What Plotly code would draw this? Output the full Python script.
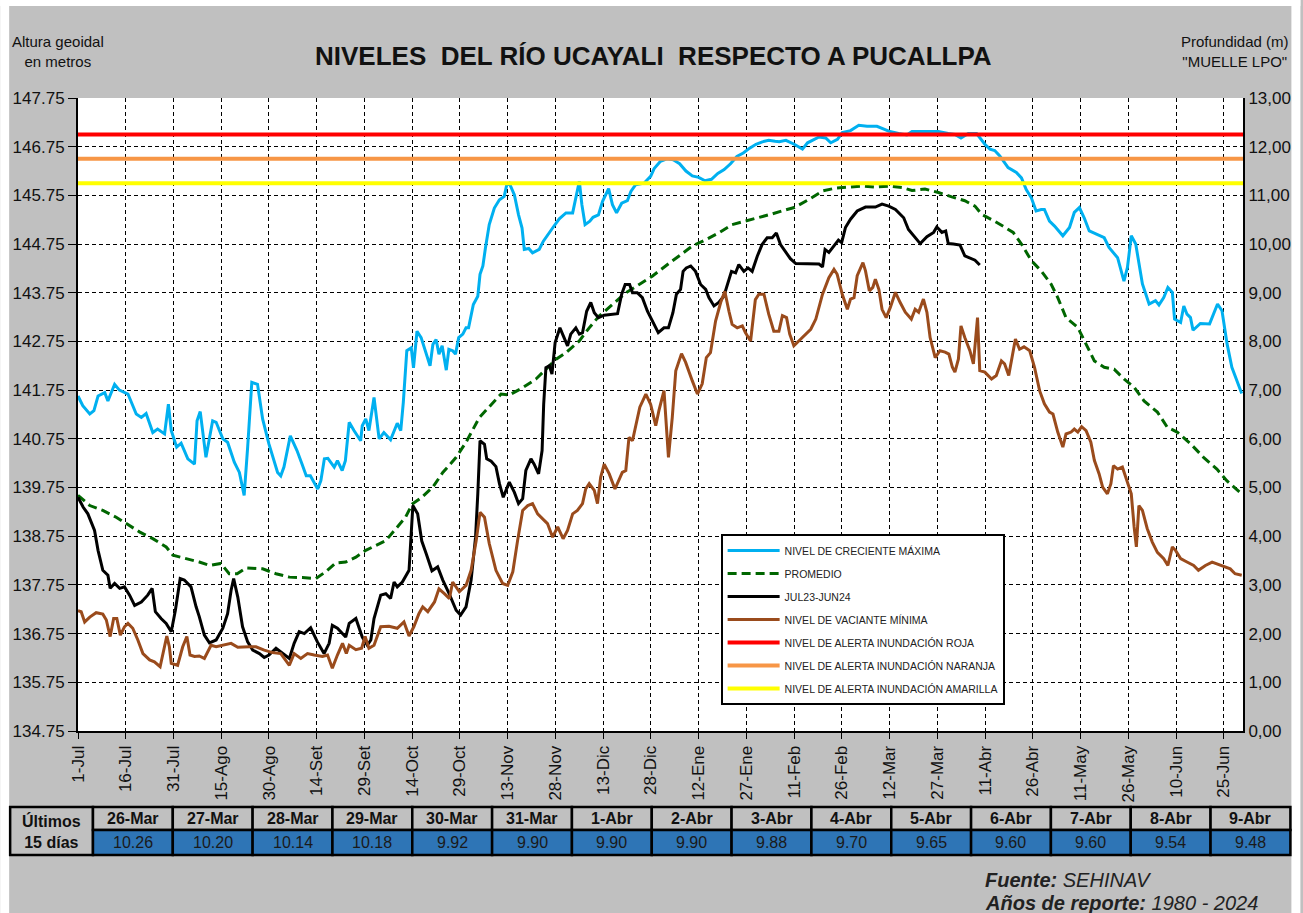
import plotly.graph_objects as go

# ---------------- DATA (day offset from 1-Jul, altitude m) ----------------
TICK_LABELS = ["1-Jul", "16-Jul", "31-Jul", "15-Ago", "30-Ago", "14-Set", "29-Set", "14-Oct",
               "29-Oct", "13-Nov", "28-Nov", "13-Dic", "28-Dic", "12-Ene", "27-Ene", "11-Feb",
               "26-Feb", "12-Mar", "27-Mar", "11-Abr", "26-Abr", "11-May", "26-May", "10-Jun", "25-Jun"]

MAXIMA = [(0,141.63),(1.5,141.43),(3.7,141.26),(5,141.33),(6.3,141.63),(8.4,141.70),(9.4,141.53),(11.5,141.87),
 (13,141.75),(15.7,141.67),(18.3,141.26),(19.9,141.19),(21.4,141.27),(23.5,140.88),(25,140.95),(27.2,140.85),
 (28.4,141.46),(29.3,140.92),(31,140.58),(32.4,140.66),(34.5,140.34),(36.6,140.23),(37.4,141.12),(38.4,141.31),
 (40.2,140.37),(42.3,141.12),(43.4,141.09),(45.5,140.75),(47,140.68),(49.1,140.27),(50.7,140.06),(52.2,139.59),
 (53.3,140.58),(54.6,141.91),(56.4,141.87),(58,141.16),(60,140.64),(62.7,140.06),(63.7,139.99),(64.7,140.17),
 (66.7,140.81),(68.8,140.51),(70.4,140.23),(71.7,139.99),(73,139.99),(75.3,139.72),(76.3,139.89),(77.4,140.34),
 (78.5,140.35),(80.5,140.17),(81.5,140.30),(83,140.10),(84,140.30),(85.2,141.09),(86.7,140.92),(88.8,140.71),
 (89.3,141.02),(90.4,141.16),(91.4,140.92),(93,141.60),(94.6,140.75),(96.1,140.88),(98.2,140.73),(100.3,141.07),
 (101.4,140.92),(102.2,141.50),(103.3,142.56),(104.7,142.62),(105.4,142.21),(106.5,142.96),(107.8,142.83),
 (109.2,142.56),(110.6,142.25),(111.5,142.69),(112.5,142.79),(113.4,142.49),(114.4,142.66),(115.7,142.16),
 (116.5,142.59),(117.7,142.56),(118.6,142.49),(119.6,142.83),(120.9,142.90),(121.9,143.03),(122.7,143.03),
 (124.2,143.51),(125.6,143.68),(126.3,144.13),(127.2,144.30),(128,144.67),(129.2,145.15),(130.8,145.49),
 (132.4,145.66),(133.9,145.73),(134.7,145.97),(135.5,146.00),(137.1,145.76),(138.4,145.35),(139.5,145.08),
 (140.2,144.64),(141.6,144.66),(142.8,144.57),(144.9,144.64),(146.2,144.81),(147.5,144.94),(149.1,145.08),
 (151.2,145.27),(153.3,145.39),(155.4,145.39),(155.9,145.56),(157.5,146.04),(158.3,145.56),(159.3,145.15),
 (160.8,145.22),(161.8,145.30),(163.5,145.35),(164.8,145.63),(166.7,145.89),(167.9,145.56),(169.2,145.39),
 (170.8,145.59),(172.6,145.64),(173.7,145.83),(175.2,145.97),(177.8,146.00),(179.9,146.14),(181,146.30),
 (183,146.45),(185,146.50),(187,146.48),(189,146.40),(191,146.25),(193,146.15),(195,146.12),(197,146.05),
 (199,146.08),(201,146.20),(203,146.28),(205,146.40),(207,146.55),(209,146.62),(211,146.72),(213,146.80),
 (215,146.85),(217,146.88),(219,146.86),(220.3,146.85),(222.4,146.88),(225,146.80),(227.6,146.70),(229.2,146.83),
 (232.8,146.95),(234.9,146.93),(236.5,146.83),(238.6,146.90),(240.1,147.04),(242.7,147.08),(245.3,147.19),
 (247.9,147.17),(251,147.17),(252.6,147.13),(254.7,147.07),(257.8,147.02),(260.4,146.99),(262,147.06),
 (266.1,147.06),(270.3,147.06),(273.4,147.02),(275.5,147.00),(277.4,146.93),(279.7,147.02),(282.3,147.02),
 (283.3,146.93),(284.9,146.80),(286.5,146.70),(288,146.67),(289.6,146.56),(292.2,146.32),(294.8,146.22),
 (296.4,146.11),(297.9,145.87),(299.5,145.70),(301,145.43),(302.6,145.46),(303.6,145.46),(305.2,145.22),
 (306.8,145.12),(309.4,144.92),(311.5,145.09),(313,145.40),(314.6,145.50),(316.1,145.29),(317.7,145.02),
 (320.3,144.95),(322.4,144.88),(323.9,144.68),(326.6,144.47),(328.6,143.99),(329.7,144.27),(330.9,144.92),
 (332.3,144.75),(334.4,143.93),(336.5,143.52),(338.5,143.59),(339.6,143.50),(341.1,143.65),(342.4,143.86),
 (343.8,143.76),(344.5,143.21),(346.4,143.14),(347.4,143.48),(348.4,143.31),(349.5,143.24),(350.3,142.98),
 (352.6,143.12),(355.5,143.11),(356.8,143.31),(358,143.52),(359.4,143.38),(361,142.70),(362.5,142.22),
 (364.1,141.94),(365.6,141.68)]

PROMEDIO = [(0,139.59),(3.7,139.38),(7.8,139.28),(12,139.14),(15.2,139.01),(19.3,138.84),(23.5,138.70),
 (27.7,138.53),(29.8,138.36),(34,138.29),(38.1,138.22),(41.3,138.15),(44.9,138.19),(47.5,137.98),(50,137.98),
 (52.8,138.10),(58,138.08),(62.2,137.98),(66.4,137.91),(70.5,137.90),(74.7,137.88),(77.8,138.02),(81,138.20),
 (84.1,138.22),(87.3,138.32),(90.4,138.46),(93.5,138.56),(96.7,138.66),(99.8,138.90),(102.9,139.14),(105,139.41),
 (108,139.55),(111.5,139.76),(114.6,140.06),(118.8,140.37),(121.9,140.68),(126.1,141.19),(129.2,141.40),
 (132.9,141.67),(135.5,141.65),(139.7,141.80),(143.9,141.98),(147.5,142.21),(150.1,142.38),(153.3,142.52),
 (157.5,142.76),(160.6,143.03),(163.7,143.27),(167.9,143.51),(172.1,143.75),(176.3,143.92),(180.4,144.09),
 (184.6,144.30),(188.8,144.50),(193,144.71),(197.2,144.84),(201.3,144.98),(205.5,145.15),(209.7,145.22),
 (213.9,145.29),(218.1,145.37),(222.2,145.45),(225,145.50),(229.7,145.67),(233.9,145.84),(238,145.90),
 (242.2,145.92),(246.4,145.94),(250.5,145.92),(254.7,145.94),(258.9,145.91),(262,145.85),(266.1,145.88),
 (270.3,145.81),(274.5,145.72),(278.6,145.64),(281.8,145.53),(283.9,145.36),(288,145.22),(291.1,145.09),
 (293.8,144.99),(296.4,144.75),(299.5,144.41),(302.6,144.20),(305.7,143.93),(307.8,143.65),(310.4,143.24),
 (314.1,143.04),(316.7,142.70),(319.3,142.35),(322.4,142.22),(325.5,142.18),(328.6,141.98),(331.8,141.81),
 (334.9,141.53),(339.1,141.30),(342.2,140.99),(345.3,140.89),(349.5,140.65),(353.6,140.37),(357.8,140.13),
 (360.9,139.89),(365.6,139.62)]

ACTUAL = [(0,139.55),(1.6,139.35),(3.1,139.21),(5.2,138.87),(6.3,138.46),(7.8,138.05),(9.4,137.95),(10.1,137.68),
 (11.5,137.78),(13.1,137.68),(14.6,137.71),(16.2,137.54),(17.8,137.33),(19.9,137.40),(21.9,137.54),(23.3,137.68),
 (24.3,137.20),(26.1,137.06),(27.7,136.96),(29.3,136.79),(30.6,137.23),(32.1,137.88),(33.4,137.85),(35.5,137.71),
 (37.1,137.30),(38.1,137.10),(39.7,136.72),(41.3,136.56),(43.4,136.62),(45.5,136.86),(47,137.16),(48.1,137.64),
 (48.9,137.88),(50.2,137.50),(51.7,136.89),(53.3,136.58),(54.9,136.41),(57,136.34),(58.5,136.26),(60,136.31),
 (62.2,136.45),(64.3,136.34),(66.4,136.24),(67.9,136.55),(69.5,136.79),(71.1,136.75),(73.1,136.87),(75.2,136.58),
 (77.3,136.34),(78.9,136.55),(79.9,136.92),(81.5,136.86),(84.1,136.68),(85.2,136.96),(87.3,137.06),(89.3,136.68),
 (90.9,136.51),(92,136.62),(93,137.06),(95.1,137.54),(96.7,137.57),(98.2,137.47),(99.3,137.81),(100.3,137.71),
 (101.9,137.81),(104,138.05),(105.2,139.38),(106.7,139.21),(108,138.65),(109.4,138.39),(111.2,138.04),(113,138.12),
 (114.6,137.85),(116.6,137.57),(118.8,137.23),(120.2,137.13),(121.9,137.30),(123.5,137.85),(124.9,138.73),
 (125.6,139.62),(126.3,140.71),(127.7,140.64),(128.4,140.34),(129.8,140.29),(131.3,140.18),(132.4,139.83),
 (133.6,139.55),(135.5,139.86),(137.1,139.65),(138.4,139.42),(139.7,139.52),(140.7,140.10),(142.3,140.34),
 (143.3,140.23),(144.7,140.03),(145.8,140.51),(146.3,141.46),(147,142.21),(148.1,142.25),(148.9,142.08),
 (149.9,142.73),(151.4,143.03),(152.8,142.83),(153.8,142.66),(154.8,142.90),(156.4,143.03),(157.5,142.90),
 (158.5,142.93),(159.8,143.37),(161.1,143.55),(162.2,143.34),(163.5,143.24),(165.3,143.29),(167.4,143.31),
 (169.5,143.32),(170.8,143.72),(171.9,143.92),(173.3,143.92),(174.2,143.75),(175.7,143.75),(177.3,143.65),
 (178.9,143.37),(180.4,143.17),(182.3,142.93),(184.1,143.03),(185.5,143.03),(186.9,143.34),(188,143.72),
 (189.3,143.82),(190.1,144.19),(191.1,144.26),(192.5,144.30),(194,144.19),(195.6,143.92),(197.2,143.82),
 (198.2,143.65),(199.8,143.48),(201.3,143.55),(202.9,143.68),(204,143.92),(205.3,144.19),(206.6,144.16),
 (207.6,144.33),(209.2,144.19),(210.5,144.26),(211.8,144.19),(213.4,144.50),(214.9,144.74),(216.5,144.88),
 (218.1,144.88),(219.4,144.98),(220.7,144.74),(222.2,144.60),(223.8,144.45),(225.5,144.35),(229.7,144.34),
 (232.8,144.34),(233.9,144.28),(234.7,144.64),(235.9,144.58),(237.5,144.71),(238.9,144.83),(239.9,144.78),
 (241.1,145.09),(242.7,145.26),(244.8,145.43),(247.4,145.51),(250.5,145.51),(252.6,145.57),(254.7,145.53),
 (256.8,145.46),(259.4,145.29),(260.9,145.05),(262.5,144.92),(264.6,144.76),(266.7,144.90),(268.8,144.99),
 (269.8,145.10),(271.4,144.99),(272.6,145.02),(273.4,144.76),(275,144.75),(277.1,144.73),(278.6,144.51),
 (280.2,144.47),(281.8,144.42),(283.3,144.32)]

MINIMA = [(0,137.22),(1,137.20),(2.1,136.99),(3.7,137.09),(5.7,137.18),(7.8,137.15),(8.9,137.03),(10.1,136.69),
 (11.2,137.06),(12.2,137.06),(13.3,136.72),(14.6,136.89),(15.7,136.96),(17.2,136.86),(18.8,136.62),(20.4,136.34),
 (22.5,136.21),(24,136.17),(25.8,136.07),(26.9,136.41),(27.9,136.70),(28.7,136.48),(29.3,136.14),(31.3,136.10),
 (32.9,136.48),(34.2,136.69),(35.2,136.31),(36.6,136.28),(38.1,136.29),(39.7,136.24),(41.8,136.51),(43.4,136.48),
 (45.5,136.51),(48.1,136.55),(50.2,136.47),(52.2,136.48),(53.8,136.48),(55.9,136.48),(58.5,136.41),(61.1,136.36),
 (63.7,136.34),(66.4,136.10),(67.9,136.34),(70,136.24),(72.1,136.34),(74.2,136.31),(76.8,136.28),(78.4,136.31),
 (79.9,136.04),(81.5,136.31),(83.1,136.55),(84.3,136.34),(85.2,136.51),(87.3,136.42),(89.1,136.45),(90.2,136.69),
 (91.4,136.45),(93,136.51),(95.1,136.89),(97.7,136.90),(100.3,136.86),(102.4,136.99),(104,136.70),(105.5,136.89),
 (107.1,137.16),(108.3,137.30),(109.9,137.20),(112,137.40),(113.4,137.67),(115.1,137.57),(116.7,137.47),
 (117.7,137.81),(119.8,137.61),(121.9,137.74),(123.5,138.05),(125.1,138.66),(126.3,139.24),(127.7,139.14),
 (129.2,138.60),(131.3,138.05),(133.4,137.78),(135,137.74),(136.6,138.02),(138.1,138.66),(139.7,139.28),
 (141.3,139.38),(142.8,139.42),(144.4,139.21),(146,139.11),(147.5,139.01),(149.1,138.73),(150.7,138.94),
 (152.4,138.70),(153.8,138.87),(155.4,139.21),(156.9,139.28),(158.5,139.42),(159.5,139.72),(160.6,139.83),
 (162.2,139.69),(163.2,139.42),(164.2,139.96),(165.3,140.23),(166.9,140.03),(168.7,139.72),(170,139.93),
 (171,140.06),(172.1,140.10),(173.1,140.78),(174.2,140.71),(175.2,140.99),(176.5,141.40),(178.4,141.67),
 (179.9,141.46),(181.5,141.02),(182.5,141.33),(184.1,141.74),(185.5,140.37),(186.7,141.19),(187.8,142.15),
 (189.6,142.50),(190.9,142.32),(193,141.94),(194.6,141.67),(196.1,141.88),(197.4,142.42),(198.7,142.52),
 (200.3,143.17),(201.9,143.55),(203.2,143.78),(204.5,143.37),(205.5,143.10),(207.1,143.03),(208.7,143.07),
 (209.7,142.93),(211.3,142.76),(212.8,143.61),(213.9,143.72),(215.5,143.72),(217,143.31),(218.6,142.96),
 (220.2,142.96),(221.3,143.28),(222.6,143.24),(223.6,142.90),(224.9,142.66),(226.6,142.77),(228.1,142.87),
 (230.2,143.00),(231.8,143.21),(233.9,143.72),(235.9,144.06),(237.5,144.23),(238.5,144.13),(240.1,143.72),
 (241.7,143.41),(242.7,143.62),(243.8,143.65),(244.8,144.10),(246.6,144.37),(247.4,144.20),(248.6,143.79),
 (249.7,143.86),(250.5,144.03),(251.6,143.82),(252.6,143.41),(253.9,143.24),(255.2,143.45),(256.8,143.76),
 (258.3,143.55),(259.9,143.35),(261.8,143.21),(263,143.41),(264.1,143.35),(265.6,143.62),(266.7,143.35),
 (267.7,142.83),(269.3,142.42),(270.8,142.56),(272.4,142.53),(273.6,142.49),(274.7,142.22),(275.5,142.12),
 (276.6,142.39),(277.4,143.07),(278.6,142.83),(280.2,142.56),(281.3,142.29),(282.6,143.24),(283.3,142.15),
 (284.9,142.12),(287,141.98),(288.5,142.05),(290.1,142.35),(291.1,142.29),(292.4,142.05),(293.2,142.35),
 (294.5,142.80),(295.8,142.59),(297.2,142.64),(299,142.56),(300.5,142.22),(302.1,141.74),(303.6,141.47),
 (305.2,141.30),(306.3,141.26),(307.8,140.89),(309.4,140.58),(310.4,140.85),(312,140.89),(313,140.95),
 (314.1,140.89),(315.3,141.00),(316.7,140.92),(318.2,140.68),(319.3,140.31),(320.8,140.03),(321.9,139.76),
 (323.4,139.62),(324.5,139.83),(325.3,140.20),(326.6,140.13),(328.1,140.17),(329.7,139.86),(330.9,139.62),
 (331.8,138.94),(332.5,138.53),(333.3,139.38),(334.4,139.28),(335.9,138.91),(337.5,138.63),(339.1,138.42),
 (341.1,138.29),(342.4,138.15),(343.8,138.53),(344.8,138.46),(346.4,138.29),(348.4,138.22),(350.5,138.15),
 (352,138.05),(354.2,138.15),(356.3,138.22),(358.9,138.15),(362,138.08),(363.5,137.98),(365.6,137.95)]

ALERT_NAMES = ["NIVEL DE ALERTA INUNDACIÓN ROJA", "NIVEL DE ALERTA INUNDACIÓN NARANJA",
               "NIVEL DE ALERTA INUNDACIÓN AMARILLA"]
ALERT_LEVELS = [147.00, 146.50, 146.00]

TABLE_DATES = ["26-Mar", "27-Mar", "28-Mar", "29-Mar", "30-Mar", "31-Mar", "1-Abr", "2-Abr",
               "3-Abr", "4-Abr", "5-Abr", "6-Abr", "7-Abr", "8-Abr", "9-Abr"]
TABLE_VALUES = [10.26, 10.20, 10.14, 10.18, 9.92, 9.90, 9.90, 9.90, 9.88, 9.70, 9.65, 9.60, 9.60, 9.54, 9.48]

Y_MIN, Y_MAX = 134.75, 147.75
X_MAX = 366

# ---------------- LAYOUT HELPERS ----------------
W, H = 1303, 913
PL, PR, PT, PB = 78, 1245.5, 98, 731
FONT = "Arial, 'Liberation Sans', sans-serif"
GRAY = "#C0C0C0"
NB = "\u00a0"


def px(X):
    return (X - PL) / (PR - PL)


def py(Y):
    return (PB - Y) / (PB - PT)


fig = go.Figure()

SERIES = [
    ("NIVEL DE CRECIENTE MÁXIMA", MAXIMA, "#00B0F0", "solid"),
    ("PROMEDIO", PROMEDIO, "#006600", "9px,5px"),
    ("JUL23-JUN24", ACTUAL, "#000000", "solid"),
    ("NIVEL DE VACIANTE MÍNIMA", MINIMA, "#9A4B1C", "solid"),
]
for i, (name, data, color, dash) in enumerate(SERIES):
    fig.add_trace(go.Scatter(
        x=[d for d, _ in data], y=[v for _, v in data], mode="lines", name=name,
        line=dict(color=color, width=3, dash=dash), legendgroup=f"g{i}",
        hoverinfo="skip"))

ALERT_COLORS = ["#FF0000", "#F79646", "#FFFF00"]
for j, (name, lvl, color) in enumerate(zip(ALERT_NAMES, ALERT_LEVELS, ALERT_COLORS)):
    fig.add_trace(go.Scatter(
        x=[0, X_MAX], y=[lvl, lvl], mode="lines", name=name,
        line=dict(color=color, width=4), legendgroup=f"a{j}", hoverinfo="skip"))

# invisible trace to activate the right (depth) axis
fig.add_trace(go.Scatter(x=[None], y=[None], yaxis="y2", showlegend=False, hoverinfo="skip"))

grid = dict(showgrid=True, gridcolor="black", gridwidth=1, griddash="4px,3px")

fig.update_layout(
    width=W, height=H,
    margin=dict(l=PL, r=W - PR, t=PT, b=H - PB, pad=0),
    paper_bgcolor=GRAY, plot_bgcolor="white",
    font=dict(family=FONT, color="black"),
    xaxis=dict(range=[0, X_MAX], tickmode="array",
               tickvals=[15 * k for k in range(len(TICK_LABELS))], ticktext=TICK_LABELS,
               tickangle=-90, ticks="outside", ticklen=6, tickcolor="black",
               showline=True, linecolor="black", linewidth=2, zeroline=False,
               tickfont=dict(size=17, color="#111"), **grid),
    yaxis=dict(range=[Y_MIN, Y_MAX], tickmode="array",
               tickvals=[Y_MIN + k for k in range(14)], tickformat=".2f",
               ticks="outside", ticklen=8, tickcolor="black",
               showline=True, linecolor="black", linewidth=2, zeroline=False,
               tickfont=dict(size=17, color="#111"), **grid),
    yaxis2=dict(range=[0, 13], overlaying="y", side="right", tickmode="array",
                tickvals=list(range(14)), ticktext=[f"{k},00" for k in range(14)],
                showgrid=False, zeroline=False, showline=True, linecolor="black", linewidth=2,
                ticks="", tickfont=dict(size=17, color="#111")),
    legend=dict(x=px(722), y=py(534), xanchor="left", yanchor="top", bgcolor="white",
                bordercolor="black", borderwidth=2, tracegroupgap=4, itemwidth=52,
                entrywidth=240, entrywidthmode="pixels",
                font=dict(size=10.5, color="#222", family=FONT)),
    showlegend=True,
)

title_text = f"NIVELES {NB}DEL RÍO UCAYALI {NB}RESPECTO A PUCALLPA"
annotations = [
    dict(text=f"<b>{title_text}</b>", x=px(655), y=py(56), font=dict(size=26, color="#111")),
    dict(text="Altura geoidal<br>en metros", x=px(58), y=py(52), font=dict(size=15, color="#111")),
    dict(text="Profundidad (m)<br>\"MUELLE LPO\"", x=px(1237), y=py(52), font=dict(size=15, color="#111")),
    dict(text="<b><i>Fuente:</i></b><i> SEHINAV</i>", x=px(985), y=py(880), xanchor="left",
         font=dict(size=20, color="#222")),
    dict(text="<b><i>Años de reporte:</i></b><i> 1980 - 2024</i>", x=px(985), y=py(903), xanchor="left",
         font=dict(size=20, color="#222")),
]

shapes = []
# white page border strips
for (x0, y0, x1, y1) in [(0, 0, 9, H), (0, 0, W, 6), (1294, 0, W, H)]:
    shapes.append(dict(type="rect", xref="paper", yref="paper", x0=px(x0), x1=px(x1),
                       y0=py(y0), y1=py(y1), fillcolor="white", line=dict(width=0), layer="below"))

# table
TT, TM, TB = 807, 830, 855
C0L, C0R = 10, 93
CW = (1293 - C0R) / len(TABLE_DATES)
shapes.append(dict(type="rect", xref="paper", yref="paper", x0=px(C0L), x1=px(C0R), y0=py(TT), y1=py(TB),
                   fillcolor=GRAY, line=dict(color="black", width=2.5), layer="below"))
annotations.append(dict(text="<b>Últimos<br>15 días</b>", x=px((C0L + C0R) / 2), y=py((TT + TB) / 2),
                        font=dict(size=16, color="#111")))
for i, (dt, val) in enumerate(zip(TABLE_DATES, TABLE_VALUES)):
    xl = C0R + i * CW
    xr = xl + CW
    shapes.append(dict(type="rect", xref="paper", yref="paper", x0=px(xl), x1=px(xr), y0=py(TT), y1=py(TM),
                       fillcolor=GRAY, line=dict(color="black", width=2.5), layer="below"))
    shapes.append(dict(type="rect", xref="paper", yref="paper", x0=px(xl), x1=px(xr), y0=py(TM), y1=py(TB),
                       fillcolor="#2E75B6", line=dict(color="black", width=2.5), layer="below"))
    annotations.append(dict(text=f"<b>{dt}</b>", x=px((xl + xr) / 2), y=py((TT + TM) / 2),
                            font=dict(size=16, color="#111")))
    annotations.append(dict(text=f"{val:.2f}", x=px((xl + xr) / 2), y=py((TM + TB) / 2),
                            font=dict(size=16, color="#1a1a1a")))

for a in annotations:
    a.setdefault("xref", "paper")
    a.setdefault("yref", "paper")
    a.setdefault("showarrow", False)
    a.setdefault("xanchor", "center")
    a.setdefault("yanchor", "middle")

fig.update_layout(annotations=annotations, shapes=shapes)

fig.write_html("out.html", config={"displayModeBar": False},
               post_script="document.body.style.margin='0';document.body.style.overflow='hidden';")
